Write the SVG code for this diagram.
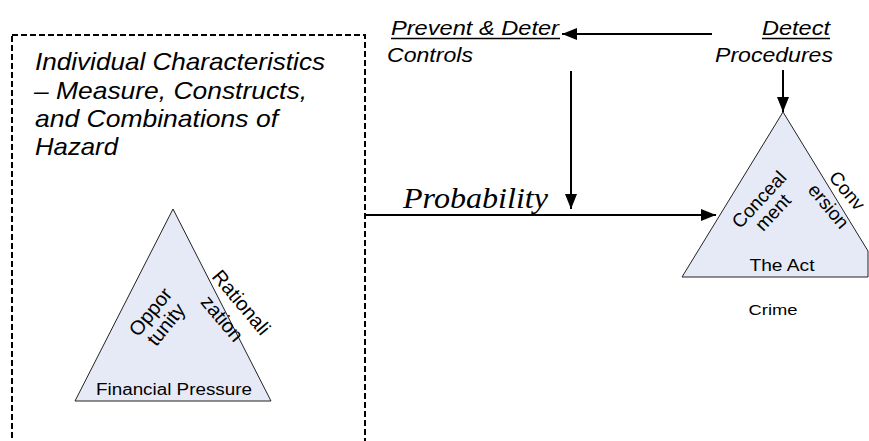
<svg xmlns="http://www.w3.org/2000/svg" width="869" height="441" viewBox="0 0 869 441">
<style>
.it{font-family:"Liberation Sans",Arial,sans-serif;font-style:italic;fill:#000}
.rg{font-family:"Liberation Sans",Arial,sans-serif;fill:#000}
.tri{fill:#E6EAF6;stroke:#222;stroke-width:1}
.conn{stroke:#000;stroke-width:2;fill:none}
.ul{stroke:#000;stroke-width:1.5}
</style>
<defs>
<marker id="ah" markerUnits="userSpaceOnUse" markerWidth="15" markerHeight="12" refX="15" refY="6" orient="auto">
<path d="M0,0 L15,6 L0,12 z" fill="#000"/>
</marker>
</defs>
<rect width="869" height="441" fill="#fff"/>

<g id="hazard-box">
<rect x="12" y="35" width="353" height="420" fill="none" stroke="#000" stroke-width="2" stroke-dasharray="6,3"/>
<text class="it" font-size="24" x="35" y="70" textLength="290" lengthAdjust="spacingAndGlyphs">Individual Characteristics</text>
<text class="it" font-size="24" x="34" y="99" textLength="273" lengthAdjust="spacingAndGlyphs">– Measure, Constructs,</text>
<text class="it" font-size="24" x="35" y="127" textLength="243" lengthAdjust="spacingAndGlyphs">and Combinations of</text>
<text class="it" font-size="24" x="35" y="155" textLength="83" lengthAdjust="spacingAndGlyphs">Hazard</text>
</g>

<g id="fraud-triangle">
<polygon class="tri" points="173,209 75,401 271,401"/>
<text class="rg" font-size="16" x="174" y="395" text-anchor="middle" textLength="156" lengthAdjust="spacingAndGlyphs">Financial Pressure</text>
<g transform="translate(158,318) rotate(-51)">
<text class="rg" font-size="20" x="0" y="-3" text-anchor="middle">Oppor</text>
<text class="rg" font-size="20" x="0" y="17" text-anchor="middle">tunity</text>
</g>
<g transform="translate(230,312) rotate(50)">
<text class="rg" font-size="20" x="0" y="-8" text-anchor="middle">Rationali</text>
<text class="rg" font-size="20" x="0" y="17" text-anchor="middle">zation</text>
</g>
</g>

<g id="prevent">
<text class="it" font-size="20" x="391" y="35" textLength="168" lengthAdjust="spacingAndGlyphs">Prevent &amp; Deter</text>
<line class="ul" x1="391" y1="38.5" x2="560" y2="38.5"/>
<text class="it" font-size="20" x="387" y="62" textLength="86" lengthAdjust="spacingAndGlyphs">Controls</text>
</g>

<g id="detect">
<text class="it" font-size="20" x="830" y="35" text-anchor="end" textLength="68" lengthAdjust="spacingAndGlyphs">Detect</text>
<line class="ul" x1="762" y1="38.5" x2="830" y2="38.5"/>
<text class="it" font-size="20" x="833" y="62" text-anchor="end" textLength="118" lengthAdjust="spacingAndGlyphs">Procedures</text>
</g>

<g id="crime-triangle">
<polygon class="tri" points="783,112 868,251 868,277 682,277"/>
<text class="rg" font-size="16" x="782" y="271" text-anchor="middle" textLength="65" lengthAdjust="spacingAndGlyphs">The Act</text>
<g transform="translate(766,206) rotate(-47)">
<text class="rg" font-size="19" x="0" y="-3" text-anchor="middle">Conceal</text>
<text class="rg" font-size="19" x="0" y="16" text-anchor="middle">ment</text>
</g>
<g transform="translate(836,200) rotate(50)">
<text class="rg" font-size="19" x="0" y="-8" text-anchor="middle">Conv</text>
<text class="rg" font-size="19" x="0" y="16" text-anchor="middle">ersion</text>
</g>
<text class="rg" font-size="15" x="773" y="315" text-anchor="middle" textLength="49" lengthAdjust="spacingAndGlyphs">Crime</text>
</g>

<g id="connectors">
<line class="conn" x1="712" y1="34" x2="562" y2="34" marker-end="url(#ah)"/>
<line class="conn" x1="783" y1="70" x2="783" y2="112" marker-end="url(#ah)"/>
<line class="conn" x1="571" y1="71" x2="571" y2="209" marker-end="url(#ah)"/>
<line class="conn" x1="365" y1="215" x2="716" y2="215" marker-end="url(#ah)"/>
<text font-family="'Liberation Serif','Times New Roman',serif" font-style="italic" font-size="29" x="403" y="208" textLength="145" lengthAdjust="spacingAndGlyphs">Probability</text>
</g>
</svg>
